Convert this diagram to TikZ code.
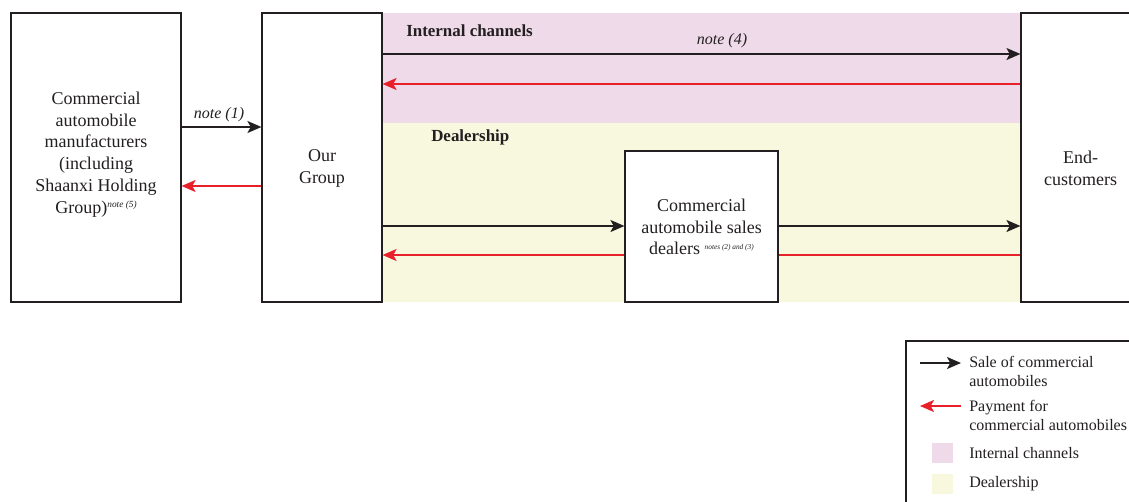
\documentclass[tikz,border=0pt]{standalone}
\usepackage{fontspec}
\setmainfont{Liberation Serif}
\usetikzlibrary{arrows.meta}
\definecolor{inkblack}{HTML}{231F20}
\definecolor{payred}{HTML}{E8202A}
\definecolor{bandpink}{HTML}{EFDAE9}
\definecolor{bandyellow}{HTML}{F8F8DF}
\newcommand{\notesup}[2]{\raisebox{0.65ex}{\fontsize{#1}{#1}\selectfont\itshape #2}}
\begin{document}
\begin{tikzpicture}[x=0.75pt,y=-0.75pt,
  box/.style={draw=inkblack, line width=0.85pt, fill=white, inner sep=0pt},
  lbl/.style={font=\fontsize{13.5}{16.3}\selectfont, align=center, text=inkblack, inner sep=0pt},
  bandlbl/.style={font=\fontsize{12.7}{15}\selectfont\bfseries, text=inkblack, anchor=west, inner sep=0pt},
  notelbl/.style={font=\fontsize{12}{14}\selectfont\itshape, text=inkblack, inner sep=0pt},
  leglbl/.style={font=\fontsize{12}{14.25}\selectfont, text=inkblack, align=left, anchor=west, inner sep=0pt},
  tip/.style={-{Stealth[length=10.5pt,width=9pt,inset=2.5pt]}},
  sale/.style={draw=inkblack, line width=1.3pt, tip},
  pay/.style={draw=payred, line width=1.3pt, tip},
  payline/.style={draw=payred, line width=1.3pt},
  swatch/.style={minimum width=15.75pt, minimum height=15pt, inner sep=0pt}]

\useasboundingbox[fill=white] (0,0) rectangle (1129,501);

% channel bands
\fill[bandpink] (382,13) rectangle (1021,123);
\fill[bandyellow] (382,123) rectangle (1021,302);

% boxes
\node[box, minimum width=127.5pt, minimum height=216.75pt] (mfr) at (96,157.5) {};
\node[box, minimum width=90pt, minimum height=216.75pt] (grp) at (322,157.5) {};
\node[box, minimum width=114.75pt, minimum height=113.25pt] (dlr) at (701.5,226.5) {};
\node[box, minimum width=89.25pt, minimum height=216.75pt] (end) at (1080.5,157.5) {};

% box texts
\node[lbl] (mfrtxt) at (96,154.5) {Commercial\\automobile\\manufacturers\\(including\\Shaanxi Holding\\Group)\notesup{7}{note (5)}};
\node[lbl] (grptxt) at (322,168.5) {Our\\Group};
\node[lbl] (dlrtxt) at (701.5,227) {Commercial\\automobile sales\\dealers \notesup{5.5}{notes (2) and (3)}};
\node[lbl] (endtxt) at (1080.5,168.5) {End-\\customers};

% band titles and notes
\node[bandlbl] (intl) at (406,31) {Internal channels};
\node[bandlbl] (deal) at (431,137) {Dealership};
\node[notelbl] (n4) at (722,41) {note (4)};
\node[notelbl] (n1) at (219,115) {note (1)};

% arrow levels
\coordinate (yA) at (0,127);
\coordinate (yB) at (0,186);
\coordinate (yC) at (0,54);
\coordinate (yD) at (0,84);
\coordinate (yE) at (0,226);
\coordinate (yF) at (0,255);

\draw[sale] (mfr.east |- yA) -- (grp.west |- yA);
\draw[pay] (grp.west |- yB) -- (mfr.east |- yB);
\draw[sale] (grp.east |- yC) -- (end.west |- yC);
\draw[pay] (end.west |- yD) -- (grp.east |- yD);
\draw[sale] (grp.east |- yE) -- (dlr.west |- yE);
\draw[sale] (dlr.east |- yE) -- (end.west |- yE);
\draw[pay] (dlr.west |- yF) -- (grp.east |- yF);
\draw[payline] (end.west |- yF) -- (dlr.east |- yF);

% legend
\draw[inkblack, line width=0.85pt] (906,341) rectangle (1145,520);
\coordinate (lsA) at (920,363);
\coordinate (lsB) at (961,363);
\coordinate (lpA) at (961,406);
\coordinate (lpB) at (920,406);
\draw[sale] (lsA) -- (lsB);
\draw[pay] (lpA) -- (lpB);
\node[leglbl] (lgsale) at (969,371.5) {Sale of commercial\\automobiles};
\node[leglbl] (lgpay) at (969,415) {Payment for\\commercial automobiles};
\node[swatch, fill=bandpink] (swp) at (942.5,453) {};
\node[swatch, fill=bandyellow] (swy) at (942.5,484) {};
\node[leglbl] (lgint) at (969,453) {Internal channels};
\node[leglbl] (lgdeal) at (969,484) {Dealership};
\end{tikzpicture}
\end{document}
